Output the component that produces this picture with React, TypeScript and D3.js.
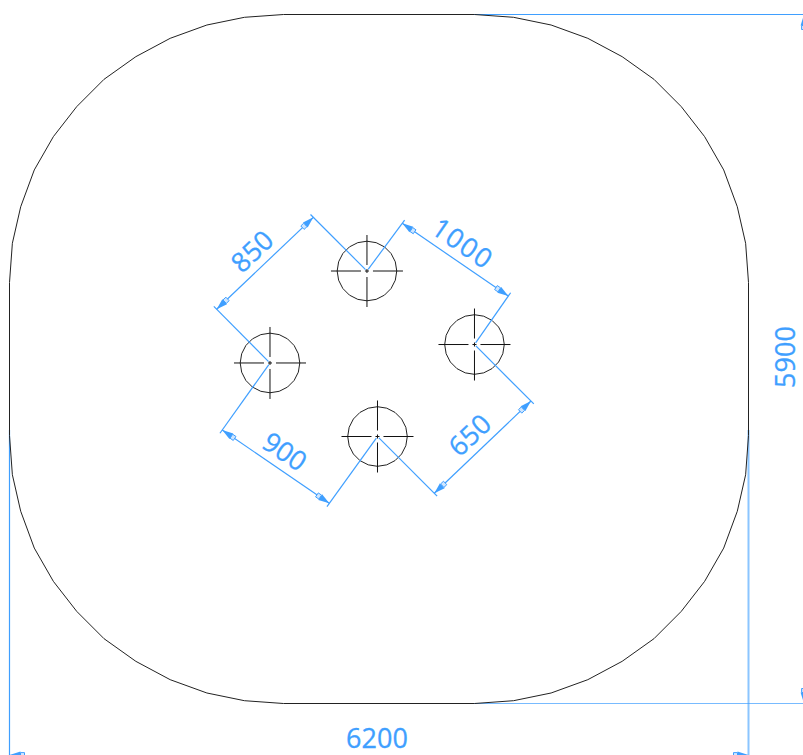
import React from "react";
import * as d3 from "d3";

const W = 803;
const H = 755;
const BLUE = "#3f9fff";
const BLACK = "#222222";
const FONT = "'Open Sans', 'Noto Sans', sans-serif";

const plateWidth = 6200;
const plateHeight = 5900;
// one corner of the plate outline, as offsets from the plate's corner
const cornerA = [0, 24, 94, 208, 368, 564, 793, 1060, 1348, 1656, 1971, 2299];
const cornerB = [2295, 1959, 1646, 1331, 1046, 789, 555, 361, 204, 90, 24, 0];

const holeX = [2999, 3901, 3087.4, 2185.5];
const holeY = [3703.5, 3074, 2286.3, 2916];

const dimLabels = ["850", "1000", "650", "900"];
const dimFromHole = [0, 0, 1, 2];
const dimToHole = [3, 1, 2, 3];
const dimAx = [2549, 3295, 4375, 2683];
const dimAy = [4163, 4112, 2590, 1714];
const dimBx = [1738, 4185, 3564, 1785];
const dimBy = [3376, 3489, 1800, 2342];

const x = d3.scaleLinear().domain([0, plateWidth]).range([9.5, 748.5]);
const y = d3.scaleLinear().domain([0, plateHeight]).range([703.5, 14.5]);

const HOLE_R = 29.8;
const HOLE_SIDES = 20;

type P = [number, number];

function outlinePoints(): P[] {
  const n = cornerA.length;
  const pts: P[] = [];
  for (let i = 0; i < n; i++) pts.push([cornerA[i], plateHeight - cornerB[i]]);
  for (let i = n - 1; i >= 0; i--) pts.push([plateWidth - cornerA[i], plateHeight - cornerB[i]]);
  for (let i = 0; i < n; i++) pts.push([plateWidth - cornerA[i], cornerB[i]]);
  for (let i = n - 1; i >= 0; i--) pts.push([cornerA[i], cornerB[i]]);
  return pts;
}

const lineGen = d3.line<P>().x((d) => x(d[0])).y((d) => y(d[1])).curve(d3.curveLinearClosed);
const holeGen = d3.lineRadial<number>().angle((d) => d).radius(HOLE_R).curve(d3.curveLinearClosed);

function Arrow({ tip, dir }: { tip: P; dir: P }) {
  const n: P = [-dir[1], dir[0]];
  const at = (l: number, w: number): P => [tip[0] + dir[0] * l + n[0] * w, tip[1] + dir[1] * l + n[1] * w];
  const s = (p: P) => `${p[0]},${p[1]}`;
  return (
    <g>
      <polygon points={[at(0, 0), at(11, 3.4), at(11, -3.4)].map(s).join(" ")} fill={BLUE} />
      <polygon
        points={[at(11, 2.4), at(15, 2.4), at(15, -2.4), at(11, -2.4)].map(s).join(" ")}
        fill="#cfe6ff"
        stroke={BLUE}
        strokeWidth={1}
      />
    </g>
  );
}

function Dim({ i }: { i: number }) {
  const A: P = [x(dimAx[i]), y(dimAy[i])];
  const B: P = [x(dimBx[i]), y(dimBy[i])];
  const len = Math.hypot(B[0] - A[0], B[1] - A[1]);
  const u: P = [(B[0] - A[0]) / len, (B[1] - A[1]) / len];
  const ext = (h: number, e: P) => {
    const c: P = [x(holeX[h]), y(holeY[h])];
    const l = Math.hypot(e[0] - c[0], e[1] - c[1]);
    const v: P = [(e[0] - c[0]) / l, (e[1] - c[1]) / l];
    return (
      <line
        x1={c[0] + v[0] * 2}
        y1={c[1] + v[1] * 2}
        x2={e[0] + v[0] * 4}
        y2={e[1] + v[1] * 4}
        stroke={BLUE}
        strokeWidth={1.2}
      />
    );
  };
  let ang = (Math.atan2(u[1], u[0]) * 180) / Math.PI;
  if (ang > 90) ang -= 180;
  if (ang < -90) ang += 180;
  const a = (ang * Math.PI) / 180;
  const mx = (A[0] + B[0]) / 2;
  const my = (A[1] + B[1]) / 2;
  const off = 8;
  const along = dimLabels[i].length > 3 ? -3 : -1;
  const tx = mx + Math.sin(a) * off + Math.cos(a) * along;
  const ty = my - Math.cos(a) * off + Math.sin(a) * along;
  return (
    <g>
      {ext(dimFromHole[i], A)}
      {ext(dimToHole[i], B)}
      <line x1={A[0]} y1={A[1]} x2={B[0]} y2={B[1]} stroke={BLUE} strokeWidth={1.2} />
      <Arrow tip={A} dir={u} />
      <Arrow tip={B} dir={[-u[0], -u[1]]} />
      <text
        x={tx}
        y={ty}
        transform={`rotate(${ang} ${tx} ${ty})`}
        textAnchor="middle"
        fontSize={27}
        letterSpacing={dimLabels[i].length > 3 ? 1.5 : 0}
        fontFamily={FONT}
        fill={BLUE}
        stroke={BLUE}
        strokeWidth={0.3}
      >
        {dimLabels[i]}
      </text>
    </g>
  );
}

export default function App() {
  const angles = d3.range(HOLE_SIDES).map((k) => (k * 2 * Math.PI) / HOLE_SIDES);
  const left = x(0);
  const right = x(plateWidth);
  const top = y(plateHeight);
  const bottom = y(0);
  return (
    <svg
      width={W}
      height={H}
      viewBox={`0 0 ${W} ${H}`}
      style={{ position: "absolute", left: 0, top: 0, background: "#fff" }}
    >
      {/* overall dimensions */}
      <g stroke={BLUE} strokeWidth={1.2}>
        <line x1={x(3810)} y1={top} x2={W + 5} y2={top} />
        <line x1={x(3810)} y1={bottom} x2={W + 5} y2={bottom} opacity={0.7} />
        <line x1={left} y1={430} x2={left} y2={H + 5} />
        <line x1={right} y1={430} x2={right} y2={H + 5} strokeWidth={2} opacity={0.6} />
        <line x1={left} y1={H + 0.5} x2={right} y2={H + 0.5} />
        <line x1={W + 1} y1={top} x2={W + 1} y2={bottom} />
      </g>
      <Arrow tip={[left, H]} dir={[1, 0]} />
      <Arrow tip={[right, H]} dir={[-1, 0]} />
      <Arrow tip={[W + 1, top]} dir={[0, 1]} />
      <Arrow tip={[W + 1, bottom]} dir={[0, -1]} />
      <text x={377} y={748} textAnchor="middle" fontSize={27} fontFamily={FONT} fill={BLUE} stroke={BLUE} strokeWidth={0.3}>
        6200
      </text>
      <text
        x={795}
        y={357}
        transform="rotate(-90 795 357)"
        textAnchor="middle"
        fontSize={27}
        fontFamily={FONT}
        fill={BLUE}
        stroke={BLUE}
        strokeWidth={0.3}
      >
        5900
      </text>

      <path d={lineGen(outlinePoints()) ?? ""} fill="none" stroke={BLACK} strokeWidth={1} />

      {holeX.map((hx, i) => {
        const cx = x(hx);
        const cy = y(holeY[i]);
        const segs: [number, number][] = [
          [-36, -6],
          [-2, 2],
          [6, 36],
        ];
        return (
          <g key={i} transform={`translate(${cx},${cy})`}>
            <path d={holeGen(angles) ?? ""} fill="none" stroke={BLACK} strokeWidth={1} />
            {segs.map(([a, b], k) => (
              <g key={k} stroke="#111" strokeWidth={1}>
                <line x1={a} y1={0} x2={b} y2={0} />
                <line x1={0} y1={a} x2={0} y2={b} />
              </g>
            ))}
          </g>
        );
      })}
      {dimLabels.map((_, i) => (
        <Dim key={i} i={i} />
      ))}
    </svg>
  );
}
